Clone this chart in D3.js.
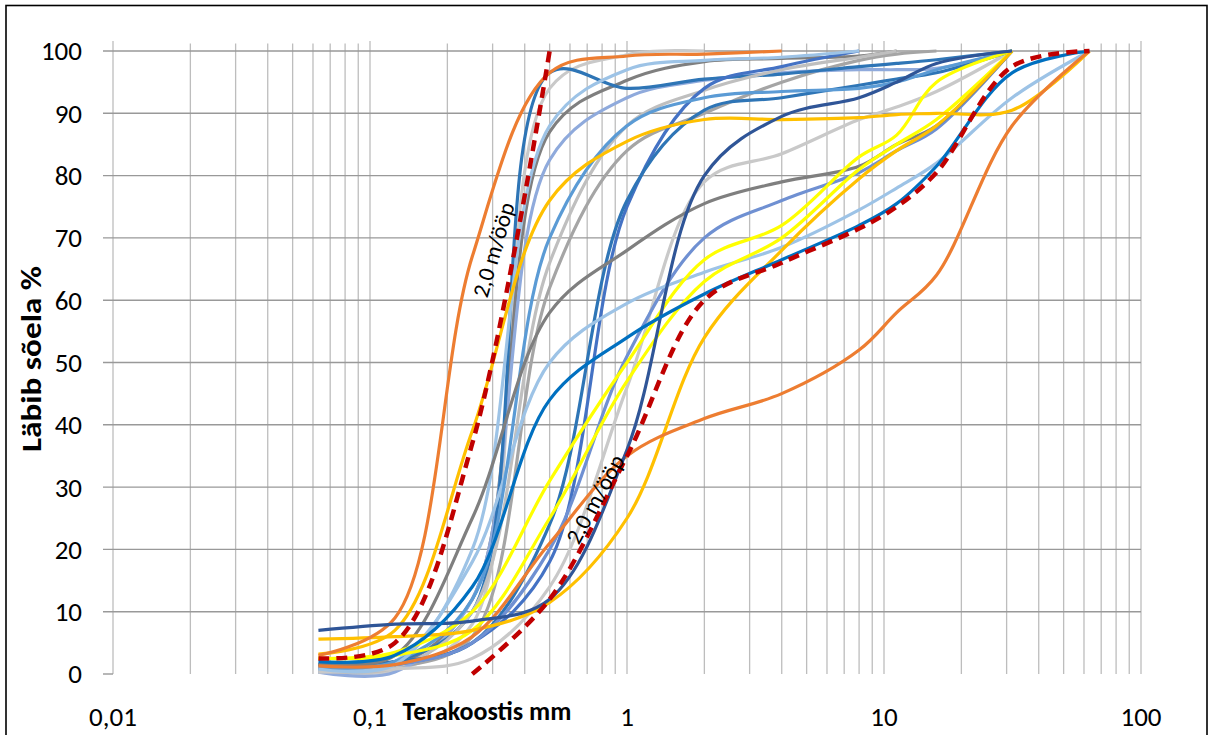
<!DOCTYPE html>
<html><head><meta charset="utf-8">
<script src="https://cdn.jsdelivr.net/npm/d3@7"></script>
<style>
html,body{margin:0;padding:0;background:#fff;}
svg{display:block;}
text{font-family:Calibri,Carlito,Lato,"Open Sans",sans-serif;fill:#000;}
</style></head><body>
<svg id="chart" width="1213" height="735"></svg>
<script>
// ---- data ----
const sieves = [0.063, 0.125, 0.25, 0.5, 1, 2, 4, 8, 11.2, 16, 31.5, 63];
const xTicks = [0.01, 0.1, 1, 10, 100];
const xTickLabels = ["0,01", "0,1", "1", "10", "100"];
const yTicks = [0, 10, 20, 30, 40, 50, 60, 70, 80, 90, 100];
const xTitle = "Terakoostis mm";
const yTitle = "Läbib sõela %";
const curveLabel = "2,0 m/ööp";

const sLightGray1 = [0.3, 0.6, 8, 94, 99.4, 100, null, null, null, null, null, null];
const sDarkGray2  = [0.8, 1.2, 12, 87, 95.3, 98.3, 98.8, 99.2, 100, null, null, null];
const sGray2      = [0.5, 1, 6, 62, 84, 90, 95, 98.5, 99.5, 100, null, null];
const sSteel1     = [0.3, 0.3, 12, 82.5, 92.5, 95.3, 96.5, 97, 97, 97.2, 100, null];
const sBlue2      = [1.5, 2, 10, 96.5, 94, 95.5, 96.3, 97.5, 98, 98.6, 100, null];
const sLightGray2 = [0.5, 1, 10, 66, 88, 93.7, 97, 99, 100, null, null, null];
const sLightGray3 = [0.3, 0.8, 2.5, 14, 46, 79, 83.5, 89, 91, 93.5, 100, null];
const sRoyal      = [1, 1.5, 5, 18, 75, 94, 97.5, 100, null, null, null, null];
const sBlue1      = [1.5, 2, 5, 24, 76, 90.5, 92.5, 94.5, 95.5, 96.5, 100, null];
const sMidBlue    = [1, 1.5, 5, 20, 51, 70, 76, 80.5, 84, 87.5, 100, null];
const sLightBlue1 = [1, 2, 18, 50, 59.5, 64.5, 68.5, 74.5, 78, 82, 92.5, 100];
const sSkyBlue    = [1, 2, 12, 70, 88, 92.5, 93.5, 94, 95, 97, 100, null];
const sLightBlue2 = [0.8, 1.5, 20, 88, 97, 98.5, 99, 100, null, null, null, null];
const sDarkGray1  = [1.5, 3, 25, 58, 68, 75.5, 79, 81.5, 85, 88, 100, null];
const sYellow1    = [2.5, 3.5, 10, 31, 50, 66.5, 72, 83, 86.5, 95, 100, null];
const sYellow2    = [2.5, 3, 7, 25, 47, 63, 70, 81, 85, 89, 100, null];
const sGold1      = [5.6, 6, 7, 11.5, 25, 54, 68, 79.5, 84, 88, 100, null];
const sGold2      = [3.2, 7, 39, 76, 85.5, 89, 89, 89.3, 89.8, 90, 90.5, 100];
const sOrange2    = [1.3, 1.5, 6, 21, 35, 41, 45, 52, 58, 64, 88, 100];
const sOrange1    = [3, 9, 67, 96.5, 99.2, 99.5, 100, null, null, null, null, null];
const sNavy       = [7, 8, 8.5, 12, 36, 80, 89.5, 92.5, 95, 98, 100, null];
const sBrightBlue = [2, 3, 14, 44, 54, 61, 66.5, 72, 75.5, 81.5, 96.5, 100];
const sRed1       = [2.5, 5, 37, 100, null, null, null, null, null, null, null, null];
const sRed2       = [null, null, 0, 12, 35, 60, 66, 71.5, 75, 80.5, 97.5, 100];

const seriesValues = [sLightGray1, sDarkGray2, sGray2, sSteel1, sBlue2, sLightGray2, sLightGray3,
  sRoyal, sBlue1, sMidBlue, sLightBlue1, sSkyBlue, sLightBlue2, sDarkGray1, sYellow1, sYellow2,
  sGold1, sGold2, sOrange2, sOrange1, sNavy, sBrightBlue, sRed1, sRed2];
const seriesColors = ["#C9C9C9", "#7F7F7F", "#A5A5A5", "#8FAADC", "#2E75B6", "#BFBFBF", "#C9C9C9",
  "#4472C4", "#2E75B6", "#6F90D2", "#9DC3E6", "#5B9BD5", "#9DC3E6", "#7F7F7F", "#FFFF00", "#FFFF00",
  "#FFC000", "#FFC000", "#ED7D31", "#ED7D31", "#2F5597", "#0070C0", "#C00000", "#C00000"];
const seriesDashed = [false, false, false, false, false, false, false, false, false, false, false, false,
  false, false, false, false, false, false, false, false, false, false, true, true];

// ---- chart ----
const svg = d3.select("#chart");
const x = d3.scaleLog().domain([0.01, 100]).range([113, 1141]);
const y = d3.scaleLinear().domain([0, 100]).range([674, 51]);

// frame
svg.append("rect").attr("x", 6).attr("y", 5.5).attr("width", 1201).attr("height", 745)
  .attr("fill", "none").attr("stroke", "#000").attr("stroke-width", 1.6);

// vertical grid (log minor + major)
const vLines = [];
for (let e = -2; e < 2; e++) for (let m = 1; m < 10; m++) vLines.push(m * Math.pow(10, e));
vLines.push(100);
svg.append("g").selectAll("line").data(vLines).join("line")
  .attr("x1", d => x(d)).attr("x2", d => x(d))
  .attr("y1", d => (Math.abs(Math.log10(d) - Math.round(Math.log10(d))) < 1e-9) ? 41 : 43.5)
  .attr("y2", y(0))
  .attr("stroke", "#BDBDBD").attr("stroke-width", 1.3);

// horizontal grid
svg.append("g").selectAll("line").data(yTicks.filter(d => d > 0)).join("line")
  .attr("x1", 103).attr("x2", x(100)).attr("y1", d => y(d)).attr("y2", d => y(d))
  .attr("stroke", "#999").attr("stroke-width", 1.4);
svg.append("line").attr("x1", 103).attr("x2", 113).attr("y1", y(0)).attr("y2", y(0))
  .attr("stroke", "#999").attr("stroke-width", 1.4);

// y tick labels
svg.append("g").selectAll("text").data(yTicks).join("text")
  .attr("x", 82).attr("y", d => y(d)).attr("dy", "0.35em").attr("text-anchor", "end")
  .attr("font-size", 27).text(d => d);

// x tick labels
svg.append("g").selectAll("text").data(xTicks).join("text")
  .attr("x", d => x(d)).attr("y", 726).attr("text-anchor", "middle")
  .attr("font-size", 27).text((d, i) => xTickLabels[i]);

// titles
svg.append("text").attr("x", 487).attr("y", 720).attr("text-anchor", "middle")
  .attr("font-size", 26).attr("font-weight", "bold").text(xTitle);
svg.append("text").attr("transform", "translate(41,359) rotate(-90)").attr("text-anchor", "middle")
  .attr("font-size", 28).attr("font-weight", "bold")
  .attr("textLength", 186).attr("lengthAdjust", "spacingAndGlyphs").text(yTitle);

// curves
const line = d3.line()
  .defined(d => d[1] !== null)
  .x(d => x(d[0])).y(d => y(d[1]))
  .curve(d3.curveCatmullRom.alpha(0.5));
const gC = svg.append("g");
seriesValues.forEach((vals, i) => {
  const pts = sieves.map((s, j) => [s, vals[j]]);
  gC.append("path").datum(pts).attr("d", line)
    .attr("fill", "none").attr("stroke", seriesColors[i])
    .attr("stroke-width", seriesDashed[i] ? 4.5 : 3.2)
    .attr("stroke-dasharray", seriesDashed[i] ? "11,7" : null)
    .attr("stroke-linejoin", "round");
});

// curve labels
svg.append("text").attr("transform", "translate(501,252) rotate(-73.5)")
  .attr("text-anchor", "middle").attr("font-size", 23).text(curveLabel);
svg.append("text").attr("transform", "translate(602,503) rotate(-61.5)")
  .attr("text-anchor", "middle").attr("font-size", 23).text(curveLabel);
</script>
</body></html>
